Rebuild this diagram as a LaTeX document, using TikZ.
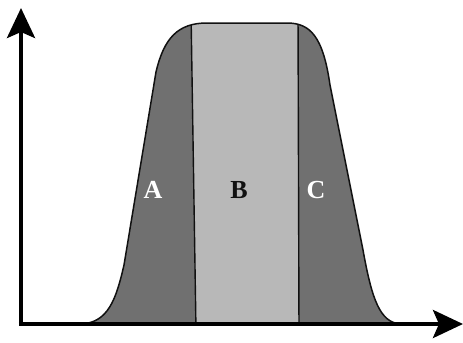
\documentclass[tikz,border=0pt]{standalone}
\usepackage{fontspec}
\setmainfont{Liberation Serif}
\usepackage{xcolor}
\usepackage{tikz}
\usetikzlibrary{arrows.meta}
\definecolor{darkband}{HTML}{707070}
\definecolor{lightband}{HTML}{B8B8B8}
\definecolor{ink}{HTML}{111111}

\begin{document}
\begin{tikzpicture}[x=0.5pt, y=-0.5pt,
  axis/.style={line width=2pt, draw=black,
    -{Stealth[length=15pt, width=14pt, inset=3pt]}},
  outline/.style={line width=0.75pt, draw=ink},
  divider/.style={line width=0.7pt, draw=ink},
  label/.style={font=\fontsize{13}{15}\selectfont\bfseries, inner sep=0pt}
]
\useasboundingbox (0,0) rectangle (463,343);
\coordinate (origin) at (21,324);
\coordinate (ytip) at (21,8);
\coordinate (xstart) at (19,324);
\coordinate (xtip) at (463,324);
% peak outline
\def\peakpath{(82,324) .. controls (108,322) and (116,300) .. (124,265)
  -- (156,72) .. controls (164,38) and (178,23) .. (207,23)
  -- (287,23) .. controls (310,23) and (323,36) .. (330,85)
  -- (363,250) .. controls (372,300) and (380,322) .. (400,324) -- cycle}
\fill[darkband] \peakpath;
\begin{scope}
  \clip \peakpath;
  \fill[lightband] (191,10) -- (298,10) -- (299,330) -- (196,330) -- cycle;
  \draw[divider] (191,10) -- (196,330);
  \draw[divider] (298,10) -- (299,330);
\end{scope}
\draw[outline] \peakpath;
% axes
\draw[axis] (origin |- 0,326) -- (ytip);
\draw[axis] (xstart) -- (xtip);
% region labels
\node[label, text=white] (regionA) at (153,190) {A};
\node[label, text=ink] (regionB) at (239,190) {B};
\node[label, text=white] (regionC) at (316,190) {C};
\end{tikzpicture}
\end{document}
